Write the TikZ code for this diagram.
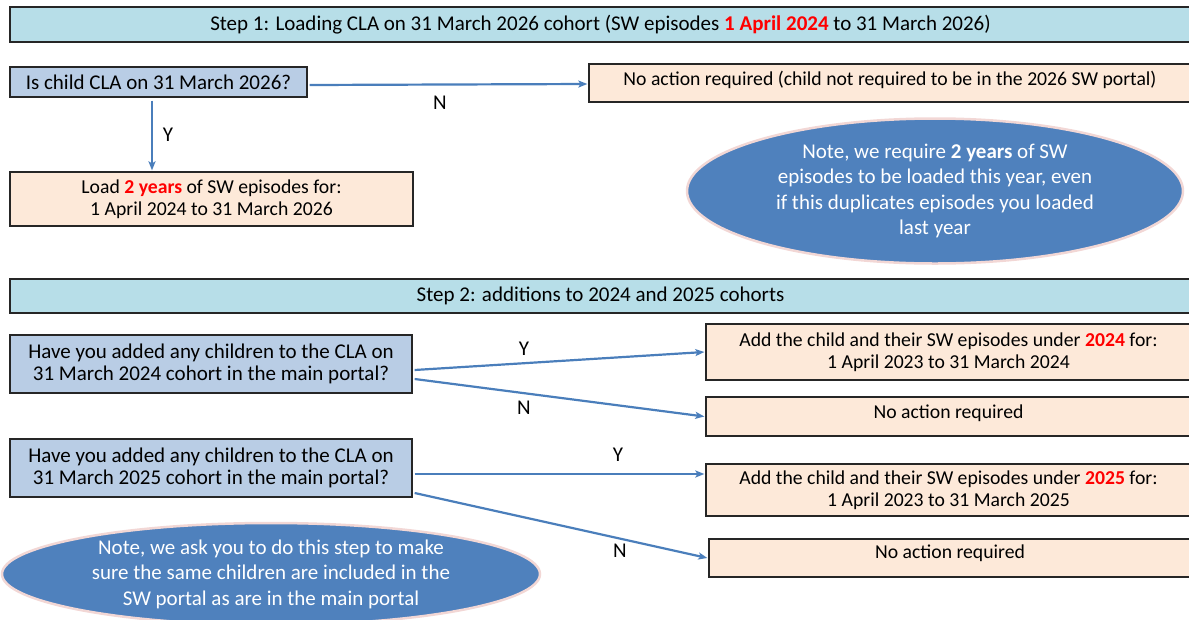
\documentclass[tikz,border=0pt]{standalone}
\usepackage{fontspec}
\setmainfont{Carlito}
\usetikzlibrary{arrows.meta,shapes.geometric}
\definecolor{hdr}{HTML}{B7DEE8}
\definecolor{qbox}{HTML}{B9CDE5}
\definecolor{abox}{HTML}{FDE9D9}
\definecolor{ell}{HTML}{4F81BD}
\definecolor{ellrim}{HTML}{F2D7D5}
\definecolor{arrc}{HTML}{4A7EBB}
\definecolor{redt}{HTML}{FF0000}
\newcommand{\hl}[1]{\textcolor{redt}{\textbf{#1}}}
\begin{document}
\begin{tikzpicture}[x=1pt,y=-1pt,
  every node/.style={font=\fontsize{21}{22.5}\selectfont},
  boxbase/.style={draw=black!85, line width=1.3pt, inner sep=0pt, align=center},
  hdrbox/.style={boxbase, fill=hdr},
  qstyle/.style={boxbase, fill=qbox},
  astyle/.style={boxbase, fill=abox, font=\fontsize{19.7}{22.5}\selectfont},
  note/.style={ellipse, fill=ell, draw=ellrim, line width=2.5pt, inner sep=0pt,
    text=white, align=center, font=\fontsize{21}{25.5}\selectfont},
  arr/.style={draw=arrc, line width=2.2pt, -{Stealth[length=9pt,width=7pt,inset=2pt]}},
  lbl/.style={inner sep=0pt}
]
\useasboundingbox (0,0) rectangle (1189,619);

% Step 1
\node[hdrbox, minimum width=1181pt, minimum height=35pt] (h1) at (600.5,24.5)
  {Step 1: Loading CLA on 31 March 2026 cohort (SW episodes \hl{1 April 2024} to 31 March 2026)};
\node[qstyle, minimum width=297pt, minimum height=30pt] (q0) at (158.5,82)
  {Is child CLA on 31 March 2026?};
\node[astyle, minimum width=602pt, minimum height=38pt, text depth=9pt] (na0) at (890,83)
  {No action required (child not required to be in the 2026 SW portal)};
\node[astyle, minimum width=403pt, minimum height=54pt] (l0) at (211.5,199)
  {Load \hl{2 years} of SW episodes for:\\1 April 2024 to 31 March 2026};
\node[note, minimum width=496pt, minimum height=145pt] (e1) at (935,191)
  {Note, we require \textbf{2 years} of SW\\episodes to be loaded this year, even\\if this duplicates episodes you loaded\\last year};

\draw[arr] ([yshift=-3pt,xshift=2pt]q0.east) -- ([yshift=-1pt,xshift=-1pt]na0.west);
\draw[arr] ([xshift=-6.5pt,yshift=-3pt]q0.south) -- ([xshift=-59.5pt,yshift=1pt]l0.north);
\node[lbl] (n0) at (440,103) {N};
\node[lbl] (y0) at (168,135) {Y};

% Step 2
\node[hdrbox, minimum width=1181pt, minimum height=34pt] (h2) at (600.5,296)
  {Step 2: additions to 2024 and 2025 cohorts};
\node[qstyle, minimum width=402pt, minimum height=58pt] (q1) at (211,364)
  {Have you added any children to the CLA on\\31 March 2024 cohort in the main portal?};
\node[qstyle, minimum width=402pt, minimum height=58pt] (q2) at (211,468)
  {Have you added any children to the CLA on\\31 March 2025 cohort in the main portal?};
\node[astyle, minimum width=485pt, minimum height=56pt] (a1) at (948.5,352)
  {Add the child and their SW episodes under \hl{2024} for:\\1 April 2023 to 31 March 2024};
\node[astyle, minimum width=485pt, minimum height=39pt, text depth=10pt] (a2) at (948.5,416.5)
  {No action required};
\node[astyle, minimum width=485pt, minimum height=52pt] (a3) at (948.5,490)
  {Add the child and their SW episodes under \hl{2025} for:\\1 April 2023 to 31 March 2025};
\node[astyle, minimum width=482pt, minimum height=38pt, text depth=12pt] (a4) at (950,558)
  {No action required};
\node[note, minimum width=538pt, minimum height=102pt] (e2) at (271,574)
  {Note, we ask you to do this step to make\\sure the same children are included in the\\SW portal as are in the main portal};

\draw[arr] ([xshift=2pt,yshift=-6pt]q1.east) -- ([xshift=-1pt]a1.west);
\draw[arr] ([xshift=2pt,yshift=-15pt]q1.east) -- ([xshift=-1pt]a2.west);
\draw[arr] ([xshift=2pt,yshift=-6pt]q2.east) -- ([xshift=-1pt,yshift=16pt]a3.west);
\draw[arr] ([xshift=2pt,yshift=-25pt]q2.east) -- ([xshift=-1pt]a4.west);
\node[lbl] (y1) at (524,349) {Y};
\node[lbl] (n1) at (524,408) {N};
\node[lbl] (y2) at (618,455) {Y};
\node[lbl] (n2) at (620,551) {N};
\end{tikzpicture}
\end{document}
